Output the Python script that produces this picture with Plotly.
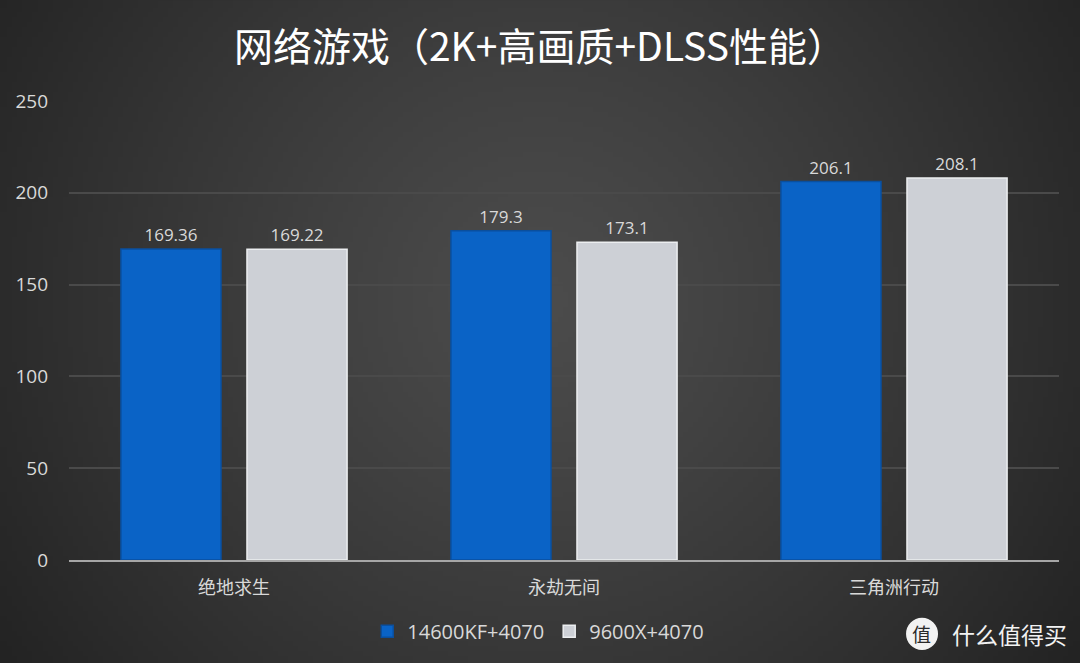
import base64, struct, zlib
import plotly.graph_objects as go

categories = ["绝地求生", "永劫无间", "三角洲行动"]
series_names = ["14600KF+4070", "9600X+4070"]
values_intel = [169.36, 179.3, 206.1]
values_amd = [169.22, 173.1, 208.1]
labels_intel = ["169.36", "179.3", "206.1"]
labels_amd = ["169.22", "173.1", "208.1"]
y_ticks = [0, 50, 100, 150, 200, 250]

# radial gradient background as an inline PNG (style only)
def radial_png(w=216, h=133, cx=0.5, cy=0.45, inner=(76, 76, 76), outer=(34, 34, 34)):
    rows = b""
    for j in range(h):
        row = b"\x00"
        for i in range(w):
            dx = (i / (w - 1) - cx)
            dy = (j / (h - 1) - cy) * 0.62
            d = min(1.0, (dx * dx + dy * dy) ** 0.5 / 0.62)
            t = d ** 1.2
            row += bytes(int(inner[k] + (outer[k] - inner[k]) * t) for k in range(3))
        rows += row
    def chunk(tag, data):
        c = struct.pack(">I", len(data)) + tag + data
        return c + struct.pack(">I", zlib.crc32(tag + data) & 0xffffffff)
    png = b"\x89PNG\r\n\x1a\n"
    png += chunk(b"IHDR", struct.pack(">IIBBBBB", w, h, 8, 2, 0, 0, 0))
    png += chunk(b"IDAT", zlib.compress(rows, 9))
    png += chunk(b"IEND", b"")
    return "data:image/png;base64," + base64.b64encode(png).decode()

font_cjk = "Noto Sans CJK SC"
font_num = "Open Sans"

fig = go.Figure()
fig.add_trace(go.Bar(
    name=series_names[0], x=categories, y=values_intel,
    text=labels_intel, textposition="outside",
    textfont=dict(color="#d9d9d9", size=17, family=font_num),
    marker=dict(color="#0a63c6", line=dict(color="#0a4f9e", width=1.5)),
    cliponaxis=False,
))
fig.add_trace(go.Bar(
    name=series_names[1], x=categories, y=values_amd,
    text=labels_amd, textposition="outside",
    textfont=dict(color="#d9d9d9", size=17, family=font_num),
    marker=dict(color="#cdd0d6", line=dict(color="#eceef0", width=1.5)),
    cliponaxis=False,
))

fig.update_layout(
    width=1080, height=663,
    margin=dict(l=69, r=21, t=101, b=103),
    paper_bgcolor="#2e2e2e",
    plot_bgcolor="rgba(0,0,0,0)",
    barmode="group", bargap=0.236, bargroupgap=0.206,
    title=dict(text="网络游戏（2K+高画质+DLSS性能）", x=0.5, xanchor="center",
               y=0.928, yanchor="middle",
               font=dict(family=font_cjk, size=39, color="#ffffff")),
    showlegend=True,
    legend=dict(orientation="h", x=0.474, xanchor="center", y=-0.155, yanchor="middle",
                font=dict(family=font_num, size=20, color="#d9d9d9"),
                bgcolor="rgba(0,0,0,0)", traceorder="normal"),
    images=[dict(source=radial_png(), xref="paper", yref="paper", x=-0.0697, y=1.22,
                 sizex=1.091, sizey=1.445, sizing="stretch", xanchor="left", yanchor="top",
                 layer="below")],
)
fig.update_yaxes(range=[0, 250], tickvals=y_ticks, showgrid=True, gridcolor="#4a4a4a",
                 gridwidth=1.5, zeroline=False, showline=False,
                 tickfont=dict(family=font_num, size=19, color="#d9d9d9"),
                 ticks="", ticklabelstandoff=20)
fig.update_xaxes(showgrid=False, showline=True, linecolor="#a6a6a6", linewidth=2,
                 tickfont=dict(family=font_cjk, size=18, color="#d9d9d9"), ticks="",
                 ticklabelstandoff=10)

# watermark
fig.add_shape(type="circle", xref="paper", yref="paper", layer="below",
              x0=0.8455, x1=0.8778, y0=-0.196, y1=-0.126,
              fillcolor="#f2f2f2", line=dict(width=0))
fig.add_annotation(text="值", xref="paper", yref="paper", x=0.8616, y=-0.161,
                   xanchor="center", yanchor="middle", showarrow=False,
                   font=dict(family=font_cjk, size=19, color="#2a2a2a"))
fig.add_annotation(text="什么值得买", xref="paper", yref="paper", x=0.890, y=-0.161,
                   xanchor="left", yanchor="middle", showarrow=False,
                   font=dict(family=font_cjk, size=23, color="#f2f2f2"))

fig.write_html("out.html", config={"displayModeBar": False},
               post_script="document.body.style.margin='0';document.body.style.overflow='hidden';")
